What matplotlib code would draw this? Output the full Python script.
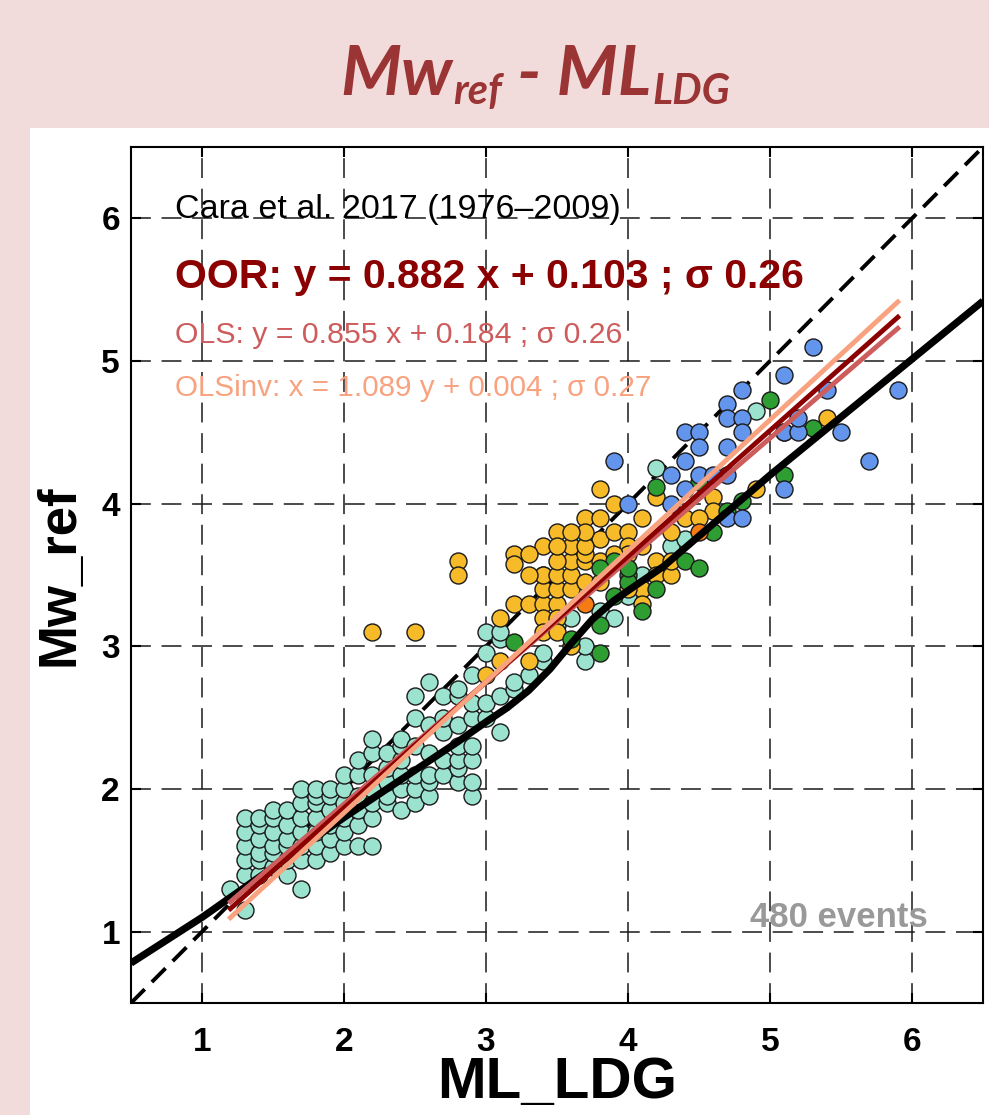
import numpy as np
import matplotlib
matplotlib.use("Agg")
from matplotlib import pyplot as plt
from matplotlib.patches import Rectangle

plt.rcParams['font.family'] = ['Liberation Sans', 'DejaVu Sans']

# events (ML_LDG, Mw_ref), one list per colour class
teal_pts = [
    (1.2, 1.3),
    (1.3, 1.15), (1.3, 1.4), (1.3, 1.5), (1.3, 1.6), (1.3, 1.7), (1.3, 1.8),
    (1.4, 1.4), (1.4, 1.5), (1.4, 1.55), (1.4, 1.65), (1.4, 1.75), (1.4, 1.8),
    (1.5, 1.45), (1.5, 1.55), (1.5, 1.6), (1.5, 1.7), (1.5, 1.8), (1.5, 1.85),
    (1.6, 1.4), (1.6, 1.5), (1.6, 1.6), (1.6, 1.65), (1.6, 1.75), (1.6, 1.85),
    (1.7, 1.3), (1.7, 1.5), (1.7, 1.6), (1.7, 1.7), (1.7, 1.8), (1.7, 1.9), (1.7, 2.0),
    (1.8, 1.5), (1.8, 1.6), (1.8, 1.7), (1.8, 1.8), (1.8, 1.9), (1.8, 1.95), (1.8, 2.0),
    (1.9, 1.55), (1.9, 1.65), (1.9, 1.75), (1.9, 1.85), (1.9, 1.95), (1.9, 2.0),
    (2.0, 1.6), (2.0, 1.7), (2.0, 1.8), (2.0, 1.9), (2.0, 2.0), (2.0, 2.1),
    (2.1, 1.6), (2.1, 1.75), (2.1, 1.85), (2.1, 1.95), (2.1, 2.1), (2.1, 2.2),
    (2.2, 1.6), (2.2, 1.8), (2.2, 1.9), (2.2, 2.0), (2.2, 2.1), (2.2, 2.25), (2.2, 2.35),
    (2.3, 1.9), (2.3, 1.95), (2.3, 2.05), (2.3, 2.15), (2.3, 2.25),
    (2.4, 1.85), (2.4, 2.0), (2.4, 2.1), (2.4, 2.2), (2.4, 2.3), (2.4, 2.35),
    (2.5, 1.9), (2.5, 2.0), (2.5, 2.1), (2.5, 2.3), (2.5, 2.5), (2.5, 2.65),
    (2.6, 1.95), (2.6, 2.05), (2.6, 2.1), (2.6, 2.25), (2.6, 2.45), (2.6, 2.75),
    (2.7, 2.1), (2.7, 2.2), (2.7, 2.4), (2.7, 2.5), (2.7, 2.65),
    (2.8, 2.05), (2.8, 2.15), (2.8, 2.2), (2.8, 2.3), (2.8, 2.45), (2.8, 2.65), (2.8, 2.7),
    (2.9, 1.95), (2.9, 2.05), (2.9, 2.2), (2.9, 2.3), (2.9, 2.5), (2.9, 2.6), (2.9, 2.8),
    (3.0, 2.5), (3.0, 2.6), (3.0, 2.95), (3.0, 3.1),
    (3.1, 2.4), (3.1, 2.65), (3.1, 3.05), (3.1, 3.1),
    (3.2, 2.7), (3.2, 2.75), (3.3, 2.8),
    (3.4, 2.9), (3.4, 2.95), (3.4, 3.5), (3.5, 3.15), (3.6, 3.2),
    (3.7, 2.9), (3.7, 3.0), (3.7, 3.75), (3.8, 3.25), (3.9, 3.2),
    (4.0, 3.35), (4.1, 3.5), (4.2, 4.25), (4.3, 3.7), (4.4, 3.75), (4.9, 4.65),
]
yellow_pts = [
    (2.2, 3.1), (2.5, 3.1), (2.8, 3.6), (2.8, 3.5),
    (3.0, 2.8), (3.1, 2.9), (3.1, 3.2), (3.2, 3.3), (3.3, 2.9), (3.3, 3.3),
    (3.4, 3.3), (3.5, 3.3), (3.2, 3.65), (3.2, 3.58), (3.4, 3.2), (3.5, 3.2),
    (3.4, 3.1), (3.5, 3.1), (3.6, 3.0), (3.4, 3.4), (3.5, 3.4), (3.6, 3.4),
    (3.4, 3.5), (3.5, 3.5), (3.6, 3.5), (3.4, 3.7), (3.5, 3.8), (3.6, 3.6),
    (3.7, 3.6), (3.8, 3.6), (3.6, 3.7), (3.7, 3.65), (3.8, 3.75), (3.9, 3.8),
    (4.0, 3.8), (4.0, 3.7), (4.1, 3.7), (4.2, 3.6), (3.7, 3.9), (3.8, 3.9),
    (3.8, 4.1), (3.9, 4.0), (4.1, 3.9), (4.4, 3.9), (3.7, 3.45), (4.1, 3.4),
    (4.2, 3.5), (4.3, 3.5), (4.0, 3.4), (4.1, 3.3), (4.0, 3.65), (4.3, 3.6),
    (3.7, 3.7), (3.7, 3.8), (3.9, 3.65), (3.6, 3.8), (3.8, 3.45), (3.5, 3.6),
    (3.5, 3.7), (3.3, 3.5), (3.3, 3.65),
    (4.2, 4.05), (4.6, 4.05), (4.6, 3.95), (4.5, 3.9), (4.3, 3.8), (4.9, 4.1),
    (5.4, 4.6),
]
green_pts = [
    (3.2, 3.03), (3.6, 3.05), (3.8, 2.95), (3.8, 3.15), (3.9, 3.6), (3.8, 3.55),
    (4.0, 3.5), (3.9, 3.35), (4.4, 3.6), (4.5, 3.55), (4.0, 3.45), (4.1, 3.25),
    (4.2, 3.4), (4.2, 4.12), (4.5, 4.15), (4.6, 3.8), (4.7, 3.95), (4.8, 4.02),
    (5.1, 4.2), (5.0, 4.73), (5.1, 4.5), (5.3, 4.53), (4.0, 3.55),
]
blue_pts = [
    (5.3, 5.1), (5.1, 4.9), (5.9, 4.8), (5.4, 4.8), (4.8, 4.8), (4.7, 4.7),
    (4.7, 4.6), (4.8, 4.6), (4.8, 4.5), (4.4, 4.5), (4.5, 4.5), (4.5, 4.4),
    (4.7, 4.4), (4.4, 4.3), (4.3, 4.2), (4.5, 4.2), (4.7, 4.2), (4.4, 4.1),
    (4.3, 4.0), (4.7, 3.9), (4.8, 3.9), (5.1, 4.5), (5.2, 4.5), (5.2, 4.6),
    (5.5, 4.5), (5.7, 4.3), (5.1, 4.1), (4.6, 4.2), (3.9, 4.3), (4.0, 4.0),
]
orange_pts = [(3.7, 3.3), (4.5, 3.8)]

# Cara et al. 2017 relation
cara_ml = [0.5, 1.0, 2.0, 2.8, 3.0, 3.15, 3.3, 3.45, 3.6, 3.75, 3.9, 4.0, 4.25, 5.0, 6.5]
cara_mw = [0.78, 1.1, 1.8, 2.33, 2.47, 2.57, 2.69, 2.84, 3.02, 3.19, 3.32, 3.39, 3.56, 4.2, 5.42]

# regressions: y = a x + b (OLSinv given as x = a y + b)
oor_ab = (0.882, 0.103)
ols_ab = (0.855, 0.184)
olsinv_ab = (1.089, 0.004)
fit_range = (1.2, 5.9)
n_events = 480

fig = plt.figure(figsize=(9.89, 11.15), dpi=100)
fig.patch.set_facecolor('#f2dcdb')
fig.add_artist(Rectangle((30 / 989, 0), 1, 1 - 128 / 1115, transform=fig.transFigure,
                         facecolor='white', edgecolor='none', zorder=-10))

ax = fig.add_axes([131 / 989, 1 - 1003 / 1115, 852 / 989, 856 / 1115])
ax.set_xlim(0.5, 6.5)
ax.set_ylim(0.5, 6.5)
ax.set_xticks(range(1, 7))
ax.set_yticks(range(1, 7))
ax.grid(True, color='#1a1a1a', lw=1.1, linestyle=(0, (13, 7)), zorder=0)
ax.set_axisbelow(True)

ax.plot([0.5, 6.5], [0.5, 6.5], color='black', lw=2.8, dashes=(5, 2.6), zorder=1)

for pts, col in [(teal_pts, '#9be3cf'), (yellow_pts, '#f7bb2a'), (green_pts, '#2e9e32'),
                 (blue_pts, '#6495ed'), (orange_pts, '#f57c12')]:
    ml, mw = zip(*pts)
    ax.scatter(ml, mw, s=150, c=col, edgecolors='#1a1a1a', linewidths=1.0, zorder=2)

ax.plot(cara_ml, cara_mw, color='black', lw=5.2, solid_capstyle='butt', zorder=3)

xf = np.array(fit_range)
ax.plot(xf, ols_ab[0] * xf + ols_ab[1], color='#cd5c5c', lw=3.5, zorder=4)
ax.plot(xf, oor_ab[0] * xf + oor_ab[1], color='#8b0000', lw=3.5, zorder=4)
ax.plot(xf, (xf - olsinv_ab[1]) / olsinv_ab[0], color='#f9a27f', lw=3.5, zorder=4)

ax.text(0.81, 6.06, 'Cara et al. 2017 (1976\u20132009)', fontsize=24.5, va='center', color='black')
ax.text(0.81, 5.59, f'OOR: y = {oor_ab[0]} x + {oor_ab[1]} ; \u03c3 0.26', fontsize=29.5,
        fontweight='bold', va='center', color='#8b0000')
ax.text(0.81, 5.18, f'OLS: y = {ols_ab[0]} x + {ols_ab[1]} ; \u03c3 0.26', fontsize=21.8,
        va='center', color='#cd5c5c')
ax.text(0.81, 4.81, f'OLSinv: x = {olsinv_ab[0]} y + 0.004 ; \u03c3 0.27', fontsize=21.3,
        va='center', color='#f9a27f')
ax.text(6.11, 1.1, f'{n_events} events', fontsize=25, fontweight='bold', ha='right',
        va='center', color='#999999')

ax.tick_params(direction='in', length=7, width=1.5, top=True, right=True,
               labelsize=24, pad=8)
ax.tick_params(axis='x', pad=17)
for lab in ax.get_xticklabels() + ax.get_yticklabels():
    lab.set_fontweight('bold')
for sp in ax.spines.values():
    sp.set_linewidth(1.5)

ax.set_xlabel('ML_LDG', fontsize=42, fontweight='bold', va='center')
ax.xaxis.set_label_coords(0.5, -0.093)
ax.set_ylabel('Mw_ref', fontsize=38, fontweight='bold', va='center')
ax.yaxis.set_label_coords(-0.084, 0.5)

# title with dropped subscripts, pieces chained left to right
tkw = dict(fontweight='bold', fontstyle='italic', family='Lato', color='#9b3434')
t1 = fig.text(0.344, 0.915, 'Mw', fontsize=50, va='baseline', ha='left', **tkw)
t2 = ax.annotate('ref', xy=(1, 0), xycoords=t1, xytext=(1, -4), textcoords='offset pixels',
                 fontsize=30, va='bottom', ha='left', annotation_clip=False, **tkw)
t3 = ax.annotate(' - ML', xy=(1, 0), xycoords=(t2, t1), fontsize=50, va='bottom', ha='left',
                 annotation_clip=False, **tkw)
t4 = ax.annotate('LDG', xy=(1, 0), xycoords=(t3, t1), xytext=(1, -4), textcoords='offset pixels',
                 fontsize=30, va='bottom', ha='left', annotation_clip=False, **tkw)

fig.savefig('out.png', dpi=100, facecolor=fig.get_facecolor())
